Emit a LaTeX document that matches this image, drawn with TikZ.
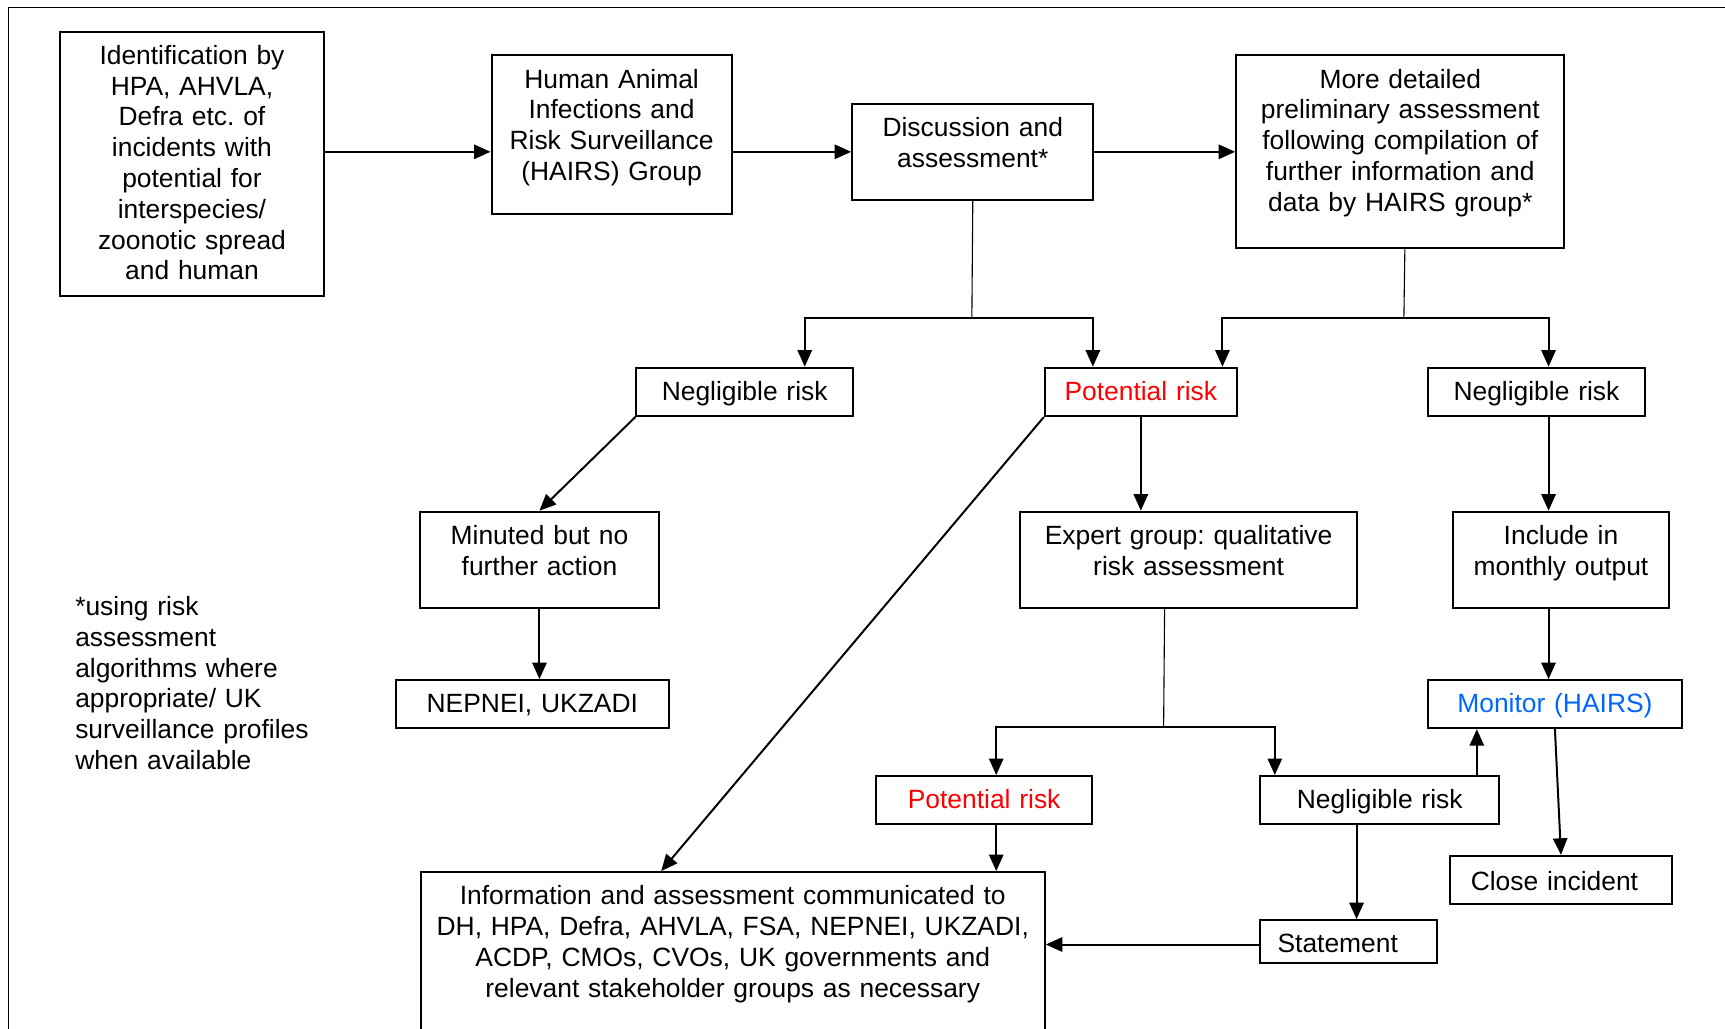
\documentclass[tikz,border=0pt]{standalone}
\usepackage{fontspec}
\setmainfont{Liberation Sans}
\usepackage{xcolor}
\usepackage{tikz}
\usetikzlibrary{arrows.meta}
\definecolor{riskred}{RGB}{255,0,0}
\definecolor{monblue}{RGB}{0,102,255}

\begin{document}
\begin{tikzpicture}[x=0.5pt, y=-0.5pt,
  font=\fontsize{12}{14}\selectfont\frenchspacing,
  >={Triangle[length=7.5pt,width=6.5pt]},
  box/.style={rectangle, draw, line width=0.9pt, anchor=north west, inner sep=0pt, align=center, text height=14.85pt},
  arr/.style={->, line width=0.9pt},
  stem/.style={line width=0.5pt}]
\path [use as bounding box, fill=white] (0,0) rectangle (1568,935);
\clip (0,0) rectangle (1568,935);
\draw [line width=0.5pt] (8,935) -- (8,6.5) -- (1568,6.5);

\node (ident) [box, text width=120.3pt, text depth=105.3pt] at (53.3,27.9) {Identification by\\HPA, AHVLA,\\Defra etc. of\\incidents with\\potential for\\interspecies/\\zoonotic spread\\and human};
\node (hairs) [box, text width=109.1pt, text depth=57.4pt] at (445.9,49.4) {Human Animal\\Infections and\\Risk Surveillance\\(HAIRS) Group};
\node (disc) [box, text width=109.65pt, text depth=28.95pt] at (773.7,93.3) {Discussion and\\assessment*};
\node (detail) [box, text width=149.1pt, text depth=72.7pt] at (1122.8,49.4) {More detailed\\preliminary assessment\\following compilation of\\further information and\\data by HAIRS group*};

\node (neg1) [box, text width=98.5pt, text depth=7.15pt] at (577.5,333.3) {Negligible risk};
\node (pot1) [box, text width=87.3pt, text depth=7.15pt, text=riskred] at (948.8,333.3) {Potential risk};
\node (neg2) [box, text width=98.3pt, text depth=7.15pt] at (1297.4,333.3) {Negligible risk};

\node (minuted) [box, text width=108.95pt, text depth=28.8pt] at (380.5,464.2) {Minuted but no\\further action};
\node (expert) [box, text width=153.2pt, text depth=28.8pt] at (926.3,464.2) {Expert group: qualitative\\risk assessment};
\node (incl) [box, text width=98.5pt, text depth=28.8pt] at (1319.5,464.2) {Include in\\monthly output};

\node (nepnei) [box, text width=123.95pt, text depth=7pt] at (359,617.3) {NEPNEI, UKZADI};
\node (mon) [box, text width=115.1pt, text depth=7pt, text=monblue] at (1297.4,617.3) {Monitor (HAIRS)};

\node (pot2) [box, text width=98.25pt, text depth=7pt, text=riskred] at (795.4,704.5) {Potential risk};
\node (neg3) [box, text width=108.8pt, text depth=7pt] at (1144.4,704.5) {Negligible risk};
\node (close) [box, text width=100.5pt, text height=15.85pt, text depth=6.25pt, align=left] at (1317.5,777) {\hspace*{9.25pt}Close incident};
\node (stmt) [box, text width=80.25pt, text depth=4.5pt, align=left] at (1144.4,835.5) {\hspace*{8pt}Statement};
\node (info) [box, text width=283.65pt, text depth=70pt] at (381.5,791.8) {Information and assessment communicated to\\DH, HPA, Defra, AHVLA, FSA, NEPNEI, UKZADI,\\ACDP, CMOs, CVOs, UK governments and\\relevant stakeholder groups as necessary};

\node (note) [anchor=north west, inner sep=0pt, text width=130pt, align=left, text height=10pt] at (68,539) {*using risk\\assessment\\algorithms where\\appropriate/ UK\\surveillance profiles\\when available};

\draw [arr] (ident.east |- disc.west) -- (hairs.west |- disc.west);
\draw [arr] (hairs.east |- disc.west) -- (disc.west);
\draw [arr] (disc.east) -- (detail.west |- disc.east);

\coordinate (j1) at (883.4,289.4);
\coordinate (j2) at (1276.1,289.4);
\coordinate (j3) at (1057.7,661);
\draw [stem] (disc.south) -- (j1);
\draw [arr] (j1) -| ([xshift=27.3pt]neg1.north);
\draw [arr] (j1) -| ([xshift=-21.8pt]pot1.north);
\draw [stem] ([xshift=2.1pt]detail.south) -- (j2);
\draw [arr] (j2) -| ([xshift=37.1pt]pot1.north);
\draw [arr] (j2) -| ([xshift=5.5pt]neg2.north);

\draw [arr] (neg1.south west) -- (minuted.north);
\draw [arr] (minuted.south) -- (minuted.south |- nepnei.north);
\draw [arr] (pot1.south) -- (pot1.south |- expert.north);
\draw [arr] (pot1.south west) -- ([xshift=109.75pt]info.north west);
\draw [arr] ([xshift=5.5pt]neg2.south) -- ([xshift=5.5pt]neg2.south |- incl.north);
\draw [arr] ([xshift=-5.65pt]incl.south) -- ([xshift=-5.65pt]incl.south |- mon.north);

\draw [stem] ([xshift=-10.9pt]expert.south) -- (j3);
\draw [arr] (j3) -| ([xshift=5.5pt]pot2.north);
\draw [arr] (j3) -| ([xshift=-47.65pt]neg3.north);
\draw [arr] ([xshift=5.5pt]pot2.south) -- ([xshift=5.5pt]pot2.south |- info.north);
\draw [arr] ([xshift=44.15pt]neg3.north) -- ([xshift=44.15pt]neg3.north |- mon.south);
\draw [arr] ([xshift=-10.5pt]neg3.south) -- ([xshift=-10.5pt]neg3.south |- stmt.north);
\draw [arr] ([yshift=-1.4pt]stmt.west) -- ([yshift=-1.4pt]stmt.west -| info.east);
\draw [arr] (mon.south) -- (close.north);
\end{tikzpicture}
\end{document}
